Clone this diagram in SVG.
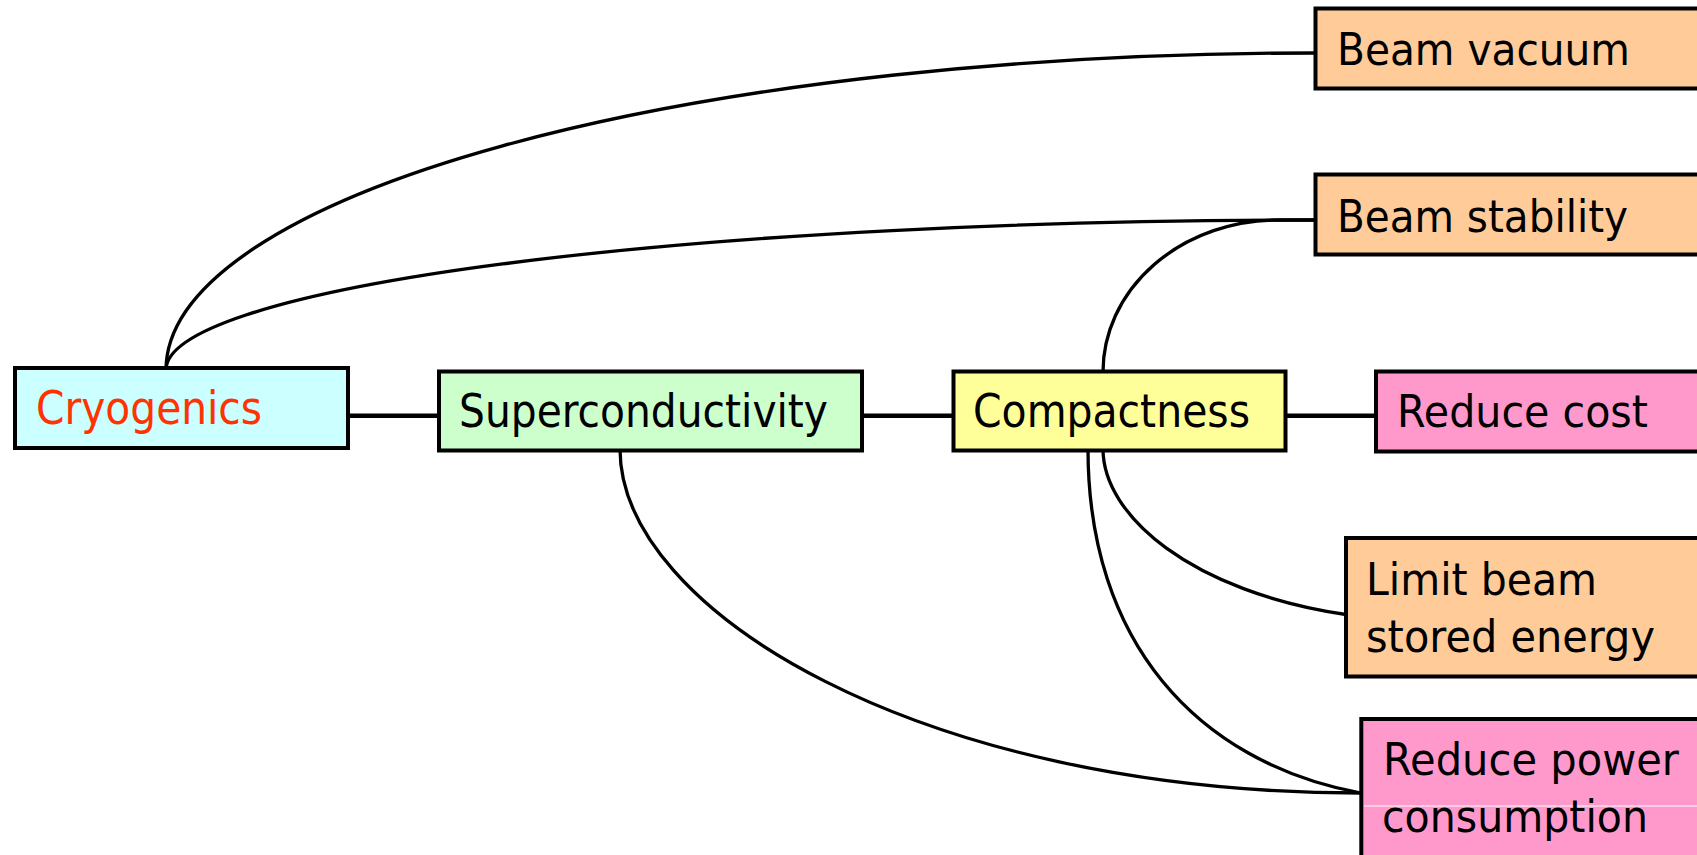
<svg xmlns="http://www.w3.org/2000/svg" width="1697" height="855" viewBox="0 0 1697 855">
<style>
.box{stroke:#000;stroke-width:4}
.t{font-family:"DejaVu Sans","Liberation Sans",sans-serif;font-size:44px;fill:#000}
.l{font-size:46px}
.c{fill:none;stroke:#000;stroke-width:3.3}
.s{fill:none;stroke:#000;stroke-width:4.5}
</style>
<rect width="1697" height="855" fill="#fff"/>
<g id="connectors">
<path class="c" d="M166,370 A1149,317 0 0 1 1315,53"/>
<path class="c" d="M166,370 A1149,150 0 0 1 1315,220"/>
<path class="c" d="M1103,372 A175,152 0 0 1 1278,220 L1315,220"/>
<path class="c" d="M1103,449 C1103,515 1190,592 1349,615"/>
<path class="c" d="M1088,449 C1088,640 1195,762 1361,793"/>
<path class="c" d="M620,449 C620,610 920,793 1361,793"/>
<line class="s" x1="348" y1="415.7" x2="439" y2="415.7"/>
<line class="s" x1="862" y1="415.7" x2="953" y2="415.7"/>
<line class="s" x1="1286" y1="415.7" x2="1376" y2="415.7"/>
</g>
<g id="cryogenics">
<rect class="box" x="15" y="368" width="333" height="80" fill="#CCFFFF"/>
<text class="t l" x="36" y="424" style="fill:#FF3300" textLength="226" lengthAdjust="spacingAndGlyphs">Cryogenics</text>
</g>
<g id="superconductivity">
<rect class="box" x="439" y="371.5" width="423" height="79" fill="#CCFFCC"/>
<text class="t l" x="459" y="427" textLength="369" lengthAdjust="spacingAndGlyphs">Superconductivity</text>
</g>
<g id="compactness">
<rect class="box" x="953.5" y="371.5" width="332" height="79" fill="#FFFF99"/>
<text class="t l" x="973" y="427" textLength="277" lengthAdjust="spacingAndGlyphs">Compactness</text>
</g>
<g id="beam-vacuum">
<rect class="box" x="1315.5" y="8.5" width="400" height="80" fill="#FFCC99"/>
<text class="t" x="1337" y="65" textLength="293" lengthAdjust="spacingAndGlyphs">Beam vacuum</text>
</g>
<g id="beam-stability">
<rect class="box" x="1315.5" y="174.5" width="400" height="80" fill="#FFCC99"/>
<text class="t" x="1337" y="231.5" textLength="291" lengthAdjust="spacingAndGlyphs">Beam stability</text>
</g>
<g id="reduce-cost">
<rect class="box" x="1376" y="371.5" width="340" height="80" fill="#FF99CC"/>
<text class="t" x="1397" y="427.3" textLength="251" lengthAdjust="spacingAndGlyphs">Reduce cost</text>
</g>
<g id="limit-beam">
<rect class="box" x="1346" y="538" width="360" height="138.5" fill="#FFCC99"/>
<text class="t" x="1366" y="595" textLength="231" lengthAdjust="spacingAndGlyphs">Limit beam</text>
<text class="t" x="1366" y="651.7" textLength="289" lengthAdjust="spacingAndGlyphs">stored energy</text>
</g>
<g id="reduce-power">
<rect class="box" x="1361.3" y="719" width="350" height="150" fill="#FF99CC"/>
<line x1="1364" y1="806" x2="1697" y2="806" stroke="#fff" stroke-width="1"/>
<text class="t" x="1383" y="775" textLength="296" lengthAdjust="spacingAndGlyphs">Reduce power</text>
<text class="t" x="1382" y="832" textLength="266" lengthAdjust="spacingAndGlyphs">consumption</text>
</g>
</svg>
